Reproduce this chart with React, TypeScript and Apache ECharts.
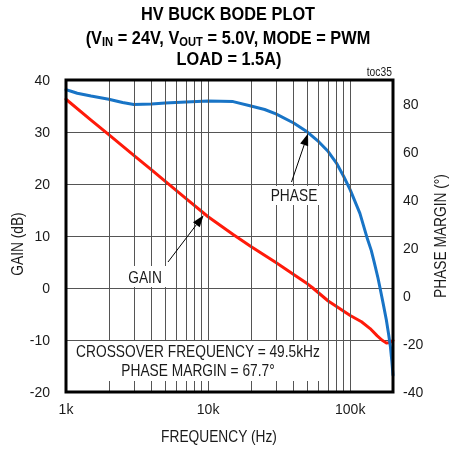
import React, { useEffect, useRef } from 'react';
import * as echarts from 'echarts';

// Gain curve (frequency in Hz, gain in dB)
const gainFreq = [1000, 1500, 2000, 3000, 4000, 5000, 7000, 10000, 15000, 20000, 30000, 40000, 50000, 54000, 70000, 100000, 120000, 138000, 155000, 167000, 180000, 190000, 200000];
const gainDb = [36.3, 32.3, 29.5, 25.5, 22.7, 20.5, 17.2, 13.7, 10.3, 8.0, 4.9, 2.6, 0.8, 0.1, -2.5, -5.3, -6.5, -7.8, -9.2, -10.0, -10.6, -10.5, -10.1];

// Phase curve (frequency in Hz, phase margin in degrees)
const phaseFreq = [1000, 1100, 1200, 1500, 2000, 2500, 3000, 4000, 5000, 7000, 10000, 15000, 20000, 25000, 30000, 40000, 50000, 60000, 70000, 80000, 90000, 100000, 117000, 131000, 140600, 147600, 156800, 162800, 171000, 179600, 186400, 191600, 196200, 200000];
const phaseDeg = [86.0, 85.2, 84.5, 83.3, 82.0, 80.6, 79.8, 80.0, 80.4, 80.8, 81.2, 81.0, 79.2, 77.7, 75.9, 72.1, 68.3, 64.3, 60.2, 55.4, 49.8, 44.2, 34.4, 24.5, 19.0, 14.0, 7.5, 2.8, -3.5, -10.0, -16.0, -21.0, -27.0, -33.0];

// Vertical grid lines (Hz)
const gridFreqs = [2000, 3000, 4000, 5000, 6000, 7000, 8000, 9000, 10000, 20000, 30000, 40000, 50000, 60000, 70000, 80000, 90000, 100000];

// Axis ranges / tick labels
const freqMin = 1000;
const freqMax = 200000;
const freqLabels: Record<number, string> = { 1000: '1k', 10000: '10k', 100000: '100k' };
const gainMin = -20, gainMax = 40, gainStep = 10;
const phaseMin = -40, phaseMax = 90, phaseStep = 20;

const FONT = '"Liberation Sans", Arial, sans-serif';
const INK = '#1a1a1a';
const NARROW = 0.86;

export default function App() {
  const ref = useRef<HTMLDivElement>(null);
  useEffect(() => {
    const chart = echarts.init(ref.current!, null, { renderer: 'svg' });
    const G = { left: 66, top: 80, width: 327, height: 312 };
    chart.setOption({
      animation: false,
      grid: { left: G.left, top: G.top, width: G.width, height: G.height, show: false },
      xAxis: {
        type: 'log', logBase: 10, min: freqMin, max: freqMax,
        axisLine: { show: false }, axisTick: { show: false }, splitLine: { show: false },
        minorTick: { show: false }, minorSplitLine: { show: false },
        axisLabel: {
          margin: 10, fontFamily: FONT, fontSize: 14, color: INK,
          formatter: (v: number) => freqLabels[Math.round(v)] || '',
          showMaxLabel: false,
        },
      },
      yAxis: [
        {
          type: 'value', min: gainMin, max: gainMax, interval: gainStep,
          axisLine: { show: false }, axisTick: { show: false },
          splitLine: { show: true, lineStyle: { color: '#555', width: 1 } },
          axisLabel: { margin: 16, fontFamily: FONT, fontSize: 14, color: INK },
        },
        {
          type: 'value', min: phaseMin, max: phaseMax, interval: phaseStep, position: 'right',
          axisLine: { show: false }, axisTick: { show: false }, splitLine: { show: false },
          axisLabel: {
            margin: 10, fontFamily: FONT, fontSize: 14, color: INK,
            formatter: (v: number) => (v === phaseMax ? '' : String(v)),
          },
        },
      ],
      series: [
        {
          type: 'line', z: 1, data: [[freqMin, gainMin]], showSymbol: false, silent: true,
          lineStyle: { opacity: 0 },
          markLine: {
            silent: true, symbol: ['none', 'none'], label: { show: false },
            lineStyle: { color: '#555', width: 1, type: 'solid' },
            emphasis: { disabled: true },
            data: gridFreqs.map((f) => ({ xAxis: f })),
          },
        },
        {
          name: 'GAIN', type: 'line', z: 3, yAxisIndex: 0, showSymbol: false, smooth: false,
          lineStyle: { color: '#ff1a0a', width: 3, join: 'round', cap: 'round' },
          data: gainFreq.map((f, i) => [f, gainDb[i]]),
        },
        {
          name: 'PHASE', type: 'line', z: 3, yAxisIndex: 1, showSymbol: false, smooth: false,
          lineStyle: { color: '#1874c6', width: 3, join: 'round', cap: 'round' },
          data: phaseFreq.map((f, i) => [f, phaseDeg[i]]),
        },
      ],
    });

    const arrow = (tail: number[], tip: number[]) => {
      const dx = tip[0] - tail[0], dy = tip[1] - tail[1];
      const len = Math.hypot(dx, dy);
      const ux = dx / len, uy = dy / len;
      const hl = 12, hw = 4.2;
      const bx = tip[0] - ux * hl, by = tip[1] - uy * hl;
      return [
        { type: 'line', z: 52, shape: { x1: tail[0], y1: tail[1], x2: bx, y2: by }, style: { stroke: '#000', lineWidth: 1 } },
        { type: 'polygon', z: 52, shape: { points: [[tip[0], tip[1]], [bx - uy * hw, by + ux * hw], [bx + uy * hw, by - ux * hw]] }, style: { fill: '#000' } },
      ];
    };

    const phaseTip = chart.convertToPixel({ xAxisIndex: 0, yAxisIndex: 1 }, [50500, 67.7]) as number[];
    const gainTip = chart.convertToPixel({ xAxisIndex: 0, yAxisIndex: 0 }, [9300, 14.0]) as number[];

    const txt = (text: string, x: number, y: number, size = 16, extra: any = {}) => ({
      type: 'text', z: 51, x, y, scaleX: NARROW,
      style: { text, fontFamily: FONT, fontSize: size, fill: INK, align: 'center', verticalAlign: 'middle', ...extra },
    });

    chart.setOption({
      graphic: [
        // title
        txt('HV BUCK BODE PLOT', 228, 14, 19, { fontWeight: 'bold', fill: '#000' }),
        {
          type: 'text', z: 51, x: 228, y: 38, scaleX: NARROW,
          style: {
            text: '{a|(V}{b|IN}{a| = 24V, V}{b|OUT}{a| = 5.0V, MODE = PWM}',
            align: 'center', verticalAlign: 'middle',
            rich: {
              a: { fontFamily: FONT, fontSize: 19, fontWeight: 'bold', fill: '#000', lineHeight: 20 },
              b: { fontFamily: FONT, fontSize: 13, fontWeight: 'bold', fill: '#000', lineHeight: 8, verticalAlign: 'bottom' },
            },
          },
        },
        txt('LOAD = 1.5A)', 229, 59, 19, { fontWeight: 'bold', fill: '#000' }),
        txt('toc35', 392, 72, 12, { align: 'right' }),
        // axis names
        { ...txt('GAIN (dB)', 17, 244, 16), rotation: Math.PI / 2 },
        { ...txt('PHASE MARGIN (°)', 440, 236, 16), rotation: Math.PI / 2 },
        txt('FREQUENCY (Hz)', 219, 436, 16),
        // annotation boxes
        { type: 'rect', z: 50, shape: { x: 67, y: 341, width: 260, height: 40 }, style: { fill: '#fff' } },
        txt('CROSSOVER FREQUENCY = 49.5kHz', 198, 351, 16),
        txt('PHASE MARGIN = 67.7°', 198, 370, 16),
        { type: 'rect', z: 50, shape: { x: 263, y: 186, width: 64, height: 19 }, style: { fill: '#fff' } },
        txt('PHASE', 294, 195, 16),
        { type: 'rect', z: 50, shape: { x: 122, y: 266, width: 44, height: 21 }, style: { fill: '#fff' } },
        txt('GAIN', 145, 277, 16),
        ...arrow([291.5, 182], phaseTip),
        ...arrow([168, 262], gainTip),
        // plot frame
        { type: 'rect', z: 100, shape: { x: G.left, y: G.top, width: G.width, height: G.height }, style: { fill: 'none', stroke: '#000', lineWidth: 3 } },
      ],
    });
    return () => chart.dispose();
  }, []);
  return <div ref={ref} style={{ position: 'fixed', left: 0, top: 0, width: 450, height: 450 }} />;
}
